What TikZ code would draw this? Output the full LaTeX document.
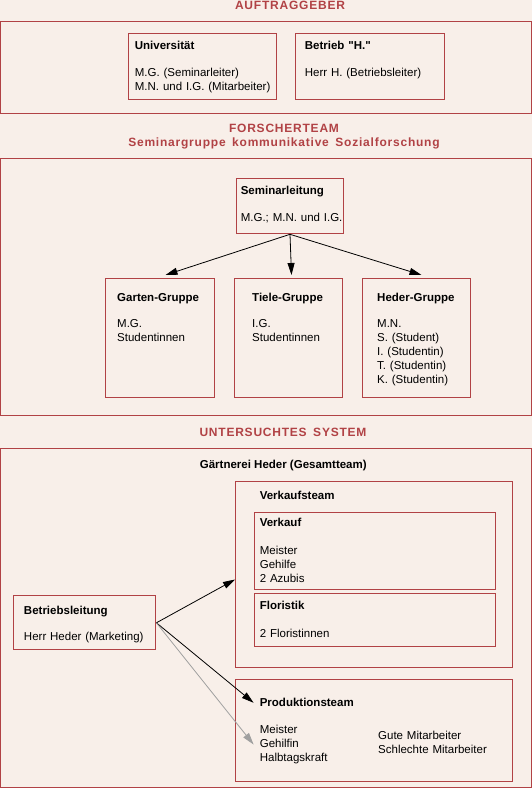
\documentclass[tikz,border=0pt]{standalone}
\usepackage{fontspec}
\setmainfont{Liberation Sans}
\newfontfamily\sperrschrift{Liberation Sans}[LetterSpace=6.5]
\usepackage{tikz}
\usetikzlibrary{arrows.meta, positioning, calc}
\usepackage{xcolor}
\definecolor{heederrot}{RGB}{177, 66, 69}
\definecolor{heedergrund}{RGB}{248, 239, 233}
\definecolor{heedergrau}{RGB}{160, 160, 160}
\newcommand{\heedergroesse}{\fontsize{11.5bp}{14bp}\selectfont}
\newcommand{\wortluecke}{\hspace{6.5bp}}

\tikzset{
  kasten/.style={draw=heederrot, line width=1bp, inner sep=0pt, anchor=north west},
  inhalt/.style={anchor=base west, inner sep=0pt, align=left, text width=#1},
  inhalt/.default=150bp,
  rubrik/.style={text=heederrot, inner sep=0pt, align=center, text width=400bp,
    anchor=base, font=\sperrschrift\bfseries\fontsize{12bp}{14bp}\selectfont},
  pfeil/.style={-{Triangle[length=12bp, width=7bp]}, line width=0.8bp},
}

\begin{document}
\begin{tikzpicture}[x=1bp, y=-1bp, font=\heedergroesse]
  \fill[heedergrund] (0,0) rectangle (532,788);
  \useasboundingbox (0,0) rectangle (532,788);

  % Auftraggeber
  \node[rubrik] (kopfauftrag) at (290,9.3) {AUFTRAGGEBER};
  \node[kasten, minimum width=530.2bp, minimum height=92.6bp] (auftrag) at (0.5,20.7) {};
  \node[kasten, minimum width=148bp, minimum height=66bp] (uni) at (128.3,33.3) {};
  \node[inhalt] (unitext) at (134.7,49.5) {\textbf{Universität}\\[12.7bp]
    M.G. (Seminarleiter)\\M.N. und I.G. (Mitarbeiter)};
  \node[kasten, minimum width=148.5bp, minimum height=66bp] (betrieb) at (295,33.3) {};
  \node[inhalt] (betriebtext) at (304.7,49.5) {\textbf{Betrieb \textquotedbl H.\textquotedbl}\\[12.7bp]
    Herr H. (Betriebsleiter)};

  % Forscherteam
  \node[rubrik] (kopfforscher) at (284,132.6) {FORSCHERTEAM\\
    Seminargruppe\wortluecke kommunikative\wortluecke Sozialforschung};
  \node[kasten, minimum width=530.2bp, minimum height=257.3bp] (forscher) at (0.5,157.7) {};
  \node[kasten, minimum width=107bp, minimum height=55bp] (seminar) at (236,178.3) {};
  \node[inhalt] (seminartext) at (240.6,194.9) {\textbf{Seminarleitung}\\[13bp]
    M.G.; M.N. und I.G.};
  \node[kasten, minimum width=109bp, minimum height=119bp] (garten) at (105,278) {};
  \node[kasten, minimum width=108bp, minimum height=119bp] (tiele) at (234,278) {};
  \node[kasten, minimum width=108bp, minimum height=119bp] (heder) at (362,278) {};
  \node[inhalt] (gartentext) at (117,301.2) {\textbf{Garten-Gruppe}\\[12bp]
    M.G.\\Studentinnen};
  \node[inhalt] (tieletext) at (252,301.2) {\textbf{Tiele-Gruppe}\\[12bp]
    I.G.\\Studentinnen};
  \node[inhalt] (hedertext) at (377,301.2) {\textbf{Heder-Gruppe}\\[12bp]
    M.N.\\S. (Student)\\I. (Studentin)\\T. (Studentin)\\K. (Studentin)};
  \draw[pfeil] (seminar.south) -- ([xshift=5.5bp, yshift=3bp]garten.north);
  \draw[pfeil] (seminar.south) -- ([xshift=3bp, yshift=3bp]tiele.north);
  \draw[pfeil] (seminar.south) -- ([xshift=5bp, yshift=3bp]heder.north);

  % Untersuchtes System
  \node[rubrik] (kopfsystem) at (283,436) {UNTERSUCHTES\wortluecke SYSTEM};
  \node[kasten, minimum width=530.2bp, minimum height=339bp] (system) at (0.5,448.3) {};
  \node[anchor=base, inner sep=0pt, font=\heedergroesse\bfseries] (gesamt) at (283.3,468.5)
    {Gärtnerei Heder (Gesamtteam)};
  \node[kasten, minimum width=277.4bp, minimum height=186.6bp] (vteam) at (235,480.7) {};
  \node[inhalt, font=\heedergroesse\bfseries] (vteamtitel) at (259.6,499.9) {Verkaufsteam};
  \node[kasten, minimum width=241.9bp, minimum height=77.6bp] (verkauf) at (253.5,511.7) {};
  \node[inhalt] (verkauftext) at (259.6,526.9) {\textbf{Verkauf}\\[14bp]
    Meister\\Gehilfe\\2 Azubis};
  \node[kasten, minimum width=241.9bp, minimum height=53.3bp] (floristik) at (253.5,592.7) {};
  \node[inhalt] (floristiktext) at (259.6,609.9) {\textbf{Floristik}\\[13.6bp]
    2 Floristinnen};
  \node[kasten, minimum width=277.4bp, minimum height=102.6bp] (pteam) at (235,678.7) {};
  \node[inhalt, font=\heedergroesse\bfseries] (ptitel) at (259.6,706.9) {Produktionsteam};
  \node[inhalt] (pliste) at (259.6,733.5) {Meister\\Gehilfin\\Halbtagskraft};
  \node[inhalt] (pwertung) at (378,739.2) {Gute Mitarbeiter\\Schlechte Mitarbeiter};
  \node[kasten, minimum width=142.8bp, minimum height=54bp] (leitung) at (12.6,595.3) {};
  \node[inhalt] (leitungtext) at (23.8,614.2) {\textbf{Betriebsleitung}\\[12.7bp]
    Herr Heder (Marketing)};
  \draw[pfeil] (leitung.east) -- ([yshift=-5bp]vteam.west);
  \draw[pfeil] (leitung.east) -- ([xshift=-6bp]ptitel.west);
  \draw[pfeil, heedergrau] (leitung.east) -- ([xshift=-6bp]pliste.west);
\end{tikzpicture}
\end{document}
